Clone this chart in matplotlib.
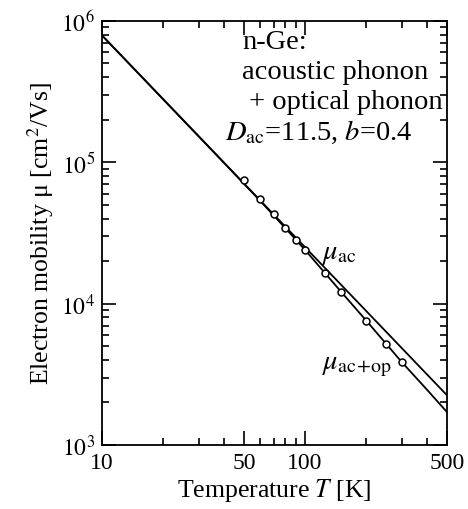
import matplotlib
matplotlib.use('Agg')
import matplotlib.pyplot as plt
from matplotlib.ticker import FixedLocator, NullFormatter, LogLocator

plt.rcParams['font.family'] = ['Liberation Serif', 'DejaVu Serif']
plt.rcParams['mathtext.fontset'] = 'stix'

# measured points (open circles)
T_data = [50, 60, 70, 80, 90, 100, 125, 150, 200, 250, 300]
mu_data = [7.5e4, 5.5e4, 4.3e4, 3.44e4, 2.83e4, 2.38e4, 1.64e4, 1.21e4, 7.5e3, 5.2e3, 3.84e3]

# acoustic phonon only (straight line on log-log)
T_ac = [10, 500]
mu_ac = [7.9e5, 2.25e3]

# acoustic + optical phonon
T_acop = [10, 40, 60, 80, 100, 150, 200, 300, 400, 500]
mu_acop = [7.9e5, 9.87e4, 5.35e4, 3.42e4, 2.4e4, 1.22e4, 7.6e3, 3.85e3, 2.45e3, 1.71e3]

fig = plt.figure(figsize=(4.68, 5.10), dpi=100)
ax = fig.add_axes([0.218, 0.1255, 0.737, 0.8315])

ax.plot(T_ac, mu_ac, color='black', lw=1.3)
ax.plot(T_acop, mu_acop, color='black', lw=1.3)
ax.plot(T_data, mu_data, 'o', ms=5, mfc='white', mec='black', mew=1.1)

ax.set_xscale('log')
ax.set_yscale('log')
ax.set_xlim(10, 500)
ax.set_ylim(1e3, 1e6)

ax.xaxis.set_major_locator(FixedLocator([10, 50, 100, 500]))
ax.set_xticklabels(['10', '50', '100', '500'])
ax.xaxis.set_minor_locator(FixedLocator([20, 30, 40, 60, 70, 80, 90, 200, 300, 400]))
ax.xaxis.set_minor_formatter(NullFormatter())
ax.yaxis.set_major_locator(FixedLocator([1e3, 1e4, 1e5, 1e6]))
ax.set_yticklabels(['$10^{3}$', '$10^{4}$', '$10^{5}$', '$10^{6}$'])
ax.yaxis.set_minor_locator(LogLocator(base=10, subs=range(2, 10)))
ax.yaxis.set_minor_formatter(NullFormatter())

ax.tick_params(which='both', direction='in', top=True, right=True, width=1.2, labelsize=17)
ax.tick_params(which='major', length=10, pad=5)
ax.tick_params(which='minor', length=5)
for s in ax.spines.values():
    s.set_linewidth(1.3)

ax.set_xlabel('Temperature $\\mathit{T}$ [K]', fontsize=18.5, labelpad=2)
ax.set_ylabel('Electron mobility \u03bc [cm$^2$/Vs]', fontsize=18.5, labelpad=4)

fs = 20.5
ax.text(0.406, 0.951, 'n-Ge:', transform=ax.transAxes, fontsize=fs, va='center')
ax.text(0.406, 0.880, 'acoustic phonon', transform=ax.transAxes, fontsize=fs, va='center')
ax.text(0.406, 0.811, ' + optical phonon', transform=ax.transAxes, fontsize=fs, va='center')
ax.text(0.356, 0.740, '$\\mathit{D}_{\\rm ac}$=11.5, $\\mathit{b}$=0.4', transform=ax.transAxes,
        fontsize=fs, va='center')

ax.text(0.638, 0.452, '$\\mu_{\\rm ac}$', transform=ax.transAxes, fontsize=fs, va='center')
ax.text(0.638, 0.188, '$\\mu_{\\rm ac\\!+\\!op}$', transform=ax.transAxes, fontsize=fs, va='center')

fig.savefig('out.png', dpi=100)
